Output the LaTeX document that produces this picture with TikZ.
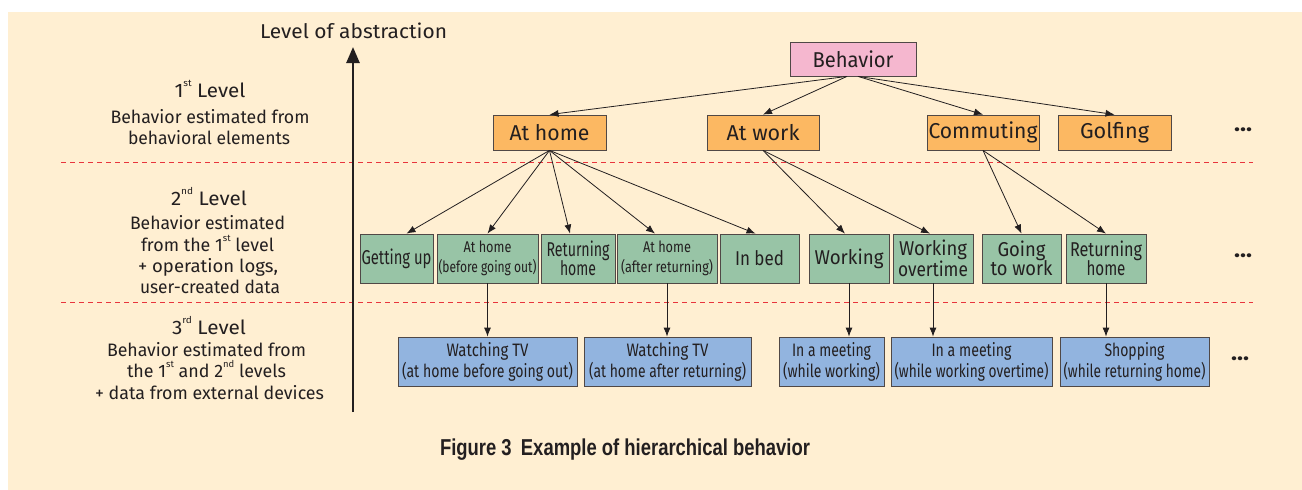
\documentclass[tikz,border=0pt]{standalone}
\usepackage{fontspec}
\setmainfont{Fira Sans}
\newfontfamily\capfont{Liberation Sans}
\usetikzlibrary{arrows.meta,calc}
\definecolor{bg}{RGB}{255,239,210}
\definecolor{txt}{RGB}{35,31,32}
\definecolor{pinkf}{RGB}{245,183,207}
\definecolor{orangef}{RGB}{252,184,98}
\definecolor{greenf}{RGB}{152,196,166}
\definecolor{bluef}{RGB}{146,180,223}
\definecolor{dashred}{RGB}{232,52,60}
\definecolor{boxline}{RGB}{80,72,70}
\newcommand\fitw[2]{\setbox0\hbox{#2}\edef\fitfac{\fpeval{#1/(\the\wd0)}}\scalebox{\fitfac}[1]{#2}}
\newcommand\sups[1]{\raisebox{0.55em}{\fontsize{9.5}{10}\selectfont #1}}
\begin{document}
\begin{tikzpicture}[x=1pt,y=-1pt,
  every node/.style={text=txt},
  box/.style={draw=boxline, line width=0.8pt, inner sep=0pt, align=center},
  pinkbox/.style={box, fill=pinkf, minimum width=126pt, minimum height=34pt, font=\fontsize{21.5}{24}\selectfont},
  lone/.style={box, fill=orangef, minimum height=35pt, font=\fontsize{21.5}{24}\selectfont},
  ltwo/.style={box, fill=greenf, minimum height=49pt, font=\fontsize{20}{19.5}\selectfont},
  ltwos/.style={box, fill=greenf, minimum height=49pt, font=\fontsize{15.5}{20}\selectfont},
  lthree/.style={box, fill=bluef, minimum height=49pt, font=\fontsize{18}{21}\selectfont},
  arr/.style={draw=txt, line width=0.8pt, -{Latex[length=9pt,width=7pt]}},
  sep/.style={draw=dashred, line width=0.9pt, dash pattern=on 5pt off 4pt},
  lvtitle/.style={anchor=base, inner sep=0pt, font=\fontsize{19.5}{22}\selectfont},
  lvtext/.style={anchor=base, inner sep=0pt, font=\fontsize{18}{21}\selectfont},
  dots/.style={inner sep=0pt, font=\bfseries\fontsize{22}{22}\selectfont}
]
\useasboundingbox (0,0) rectangle (1302,490);
\fill[bg] (8,12) rectangle (1302,490);

% separators
\coordinate (s1a) at (61,162); \coordinate (s1b) at (1253,162);
\coordinate (s2a) at (61,302); \coordinate (s2b) at (1253,302);
\draw[sep] (s1a) -- (s1b);
\draw[sep] (s2a) -- (s2b);

% axis
\node[lvtitle, font=\fontsize{20}{22}\selectfont] (loa) at (353.5,38) {\fitw{187}{Level of abstraction}};
\coordinate (axb) at (353,412);
\coordinate (axt) at (353,47);
\draw[draw=txt, line width=2.5pt, -{Triangle[length=16pt,width=13pt]}] (axb) -- (axt);

% level labels
\node[lvtitle] (t1) at (210,97) {\fitw{71}{1\sups{st} Level}};
\node[lvtext] (t1a) at (210,123) {\fitw{199}{Behavior estimated from}};
\node[lvtext] (t1b) at (209,144) {\fitw{162}{behavioral elements}};
\node[lvtitle] (t2) at (209,205) {\fitw{76}{2\sups{nd} Level}};
\node[lvtext] (t2a) at (207.5,229) {\fitw{155}{Behavior estimated}};
\node[lvtext] (t2b) at (207.5,251) {\fitw{133}{from the 1\sups{st} level}};
\node[lvtext] (t2c) at (208,272) {\fitw{140}{+ operation logs,}};
\node[lvtext] (t2d) at (210,293) {\fitw{140}{user-created data}};
\node[lvtitle] (t3) at (209,334) {\fitw{74}{3\sups{rd} Level}};
\node[lvtext] (t3a) at (206.5,356) {\fitw{199}{Behavior estimated from}};
\node[lvtext] (t3b) at (206.5,377) {\fitw{159}{the 1\sups{st} and 2\sups{nd} levels}};
\node[lvtext] (t3c) at (209.5,399) {\fitw{229}{+ data from external devices}};

% level 0 / 1
\node[pinkbox] (beh) at (853,59) {\fitw{81}{Behavior}};
\node[lone, minimum width=113pt] (home) at (549.5,132.5) {\fitw{80}{At home}};
\node[lone, minimum width=112pt] (work) at (763,132.5) {\fitw{73}{At work}};
\node[lone, minimum width=112pt] (comm) at (983,132.5) {\fitw{109}{Commuting}};
\node[lone, minimum width=113pt] (golf) at (1114.5,132.5) {\fitw{69}{Golfing}};
\node[dots] (d1) at (1243,132) {\fitw{18}{···}};

% level 2
\node[ltwo, minimum width=73pt] (getup) at (396.5,258.5) {\fitw{70}{Getting up}};
\node[ltwos, minimum width=101pt] (ahb) at (487.5,258.5) {\fitw{48}{At home}\\\fitw{98}{(before going out)}};
\node[ltwo, minimum width=74pt] (reth) at (578,258.5) {\fitw{63}{Returning}\\\fitw{36}{home}};
\node[ltwos, minimum width=100pt] (aha) at (667,258.5) {\fitw{48}{At home}\\\fitw{92}{(after returning)}};
\node[ltwo, minimum width=79pt] (bed) at (759.5,258.5) {\fitw{49}{In bed}};
\node[ltwo, minimum width=80pt] (wrk) at (849,258.5) {\fitw{69}{Working}};
\node[ltwo, minimum width=80pt] (wot) at (933,258.5) {\fitw{68}{Working}\\\fitw{70}{overtime}};
\node[ltwo, minimum width=79pt] (gtw) at (1021.5,258.5) {\fitw{48}{Going}\\\fitw{62}{to work}};
\node[ltwo, minimum width=80pt] (reth2) at (1106,258.5) {\fitw{72}{Returning}\\\fitw{39}{home}};
\node[dots] (d2) at (1243,258) {\fitw{18}{···}};

% level 3
\node[lthree, minimum width=179pt] (wtv1) at (487.5,361.5) {\fitw{82}{Watching TV}\\\fitw{171}{(at home before going out)}};
\node[lthree, minimum width=167pt] (wtv2) at (667.5,361.5) {\fitw{82}{Watching TV}\\\fitw{157}{(at home after returning)}};
\node[lthree, minimum width=105pt] (m1) at (831.5,361.5) {\fitw{79}{In a meeting}\\\fitw{97}{(while working)}};
\node[lthree, minimum width=161pt] (m2) at (971.5,361.5) {\fitw{80}{In a meeting}\\\fitw{154}{(while working overtime)}};
\node[lthree, minimum width=149pt] (shop) at (1134.5,361.5) {\fitw{60}{Shopping}\\\fitw{142}{(while returning home)}};
\node[dots] (d3) at (1240,361) {\fitw{18}{···}};

% connectors
\draw[arr] ($(beh.south)+(-6,0)$) -- (home.north);
\draw[arr] ($(beh.south)+(-6,0)$) -- (work.north);
\draw[arr] ($(beh.south)+(5,0)$) -- (comm.north);
\draw[arr] ($(beh.south)+(5,0)$) -- (golf.north);

\draw[arr] (home.south) -- ($(getup.north)+(10,0)$);
\draw[arr] (home.south) -- (ahb.north);
\draw[arr] (home.south) -- ($(reth.north)+(-8,0)$);
\draw[arr] (home.south) -- ($(aha.north)+(-12,0)$);
\draw[arr] (home.south) -- ($(bed.north)+(-4,0)$);
\draw[arr] (work.south) -- ($(wrk.north)+(-4,0)$);
\draw[arr] (work.south) -- ($(wot.north)+(-3,0)$);
\draw[arr] (comm.south) -- (gtw.north);
\draw[arr] (comm.south) -- (reth2.north);

\draw[arr] (ahb.south) -- (ahb.south |- wtv1.north);
\draw[arr] (aha.south) -- (aha.south |- wtv2.north);
\draw[arr] (wrk.south) -- (wrk.south |- m1.north);
\draw[arr] (wot.south) -- (wot.south |- m2.north);
\draw[arr] (reth2.south) -- (reth2.south |- shop.north);

% caption
\node[anchor=base, inner sep=0pt, font=\capfont\bfseries\fontsize{23}{26}\selectfont] (cap) at (625,455) {\fitw{370}{Figure 3\hspace{0.5em}Example of hierarchical behavior}};
\end{tikzpicture}
\end{document}
